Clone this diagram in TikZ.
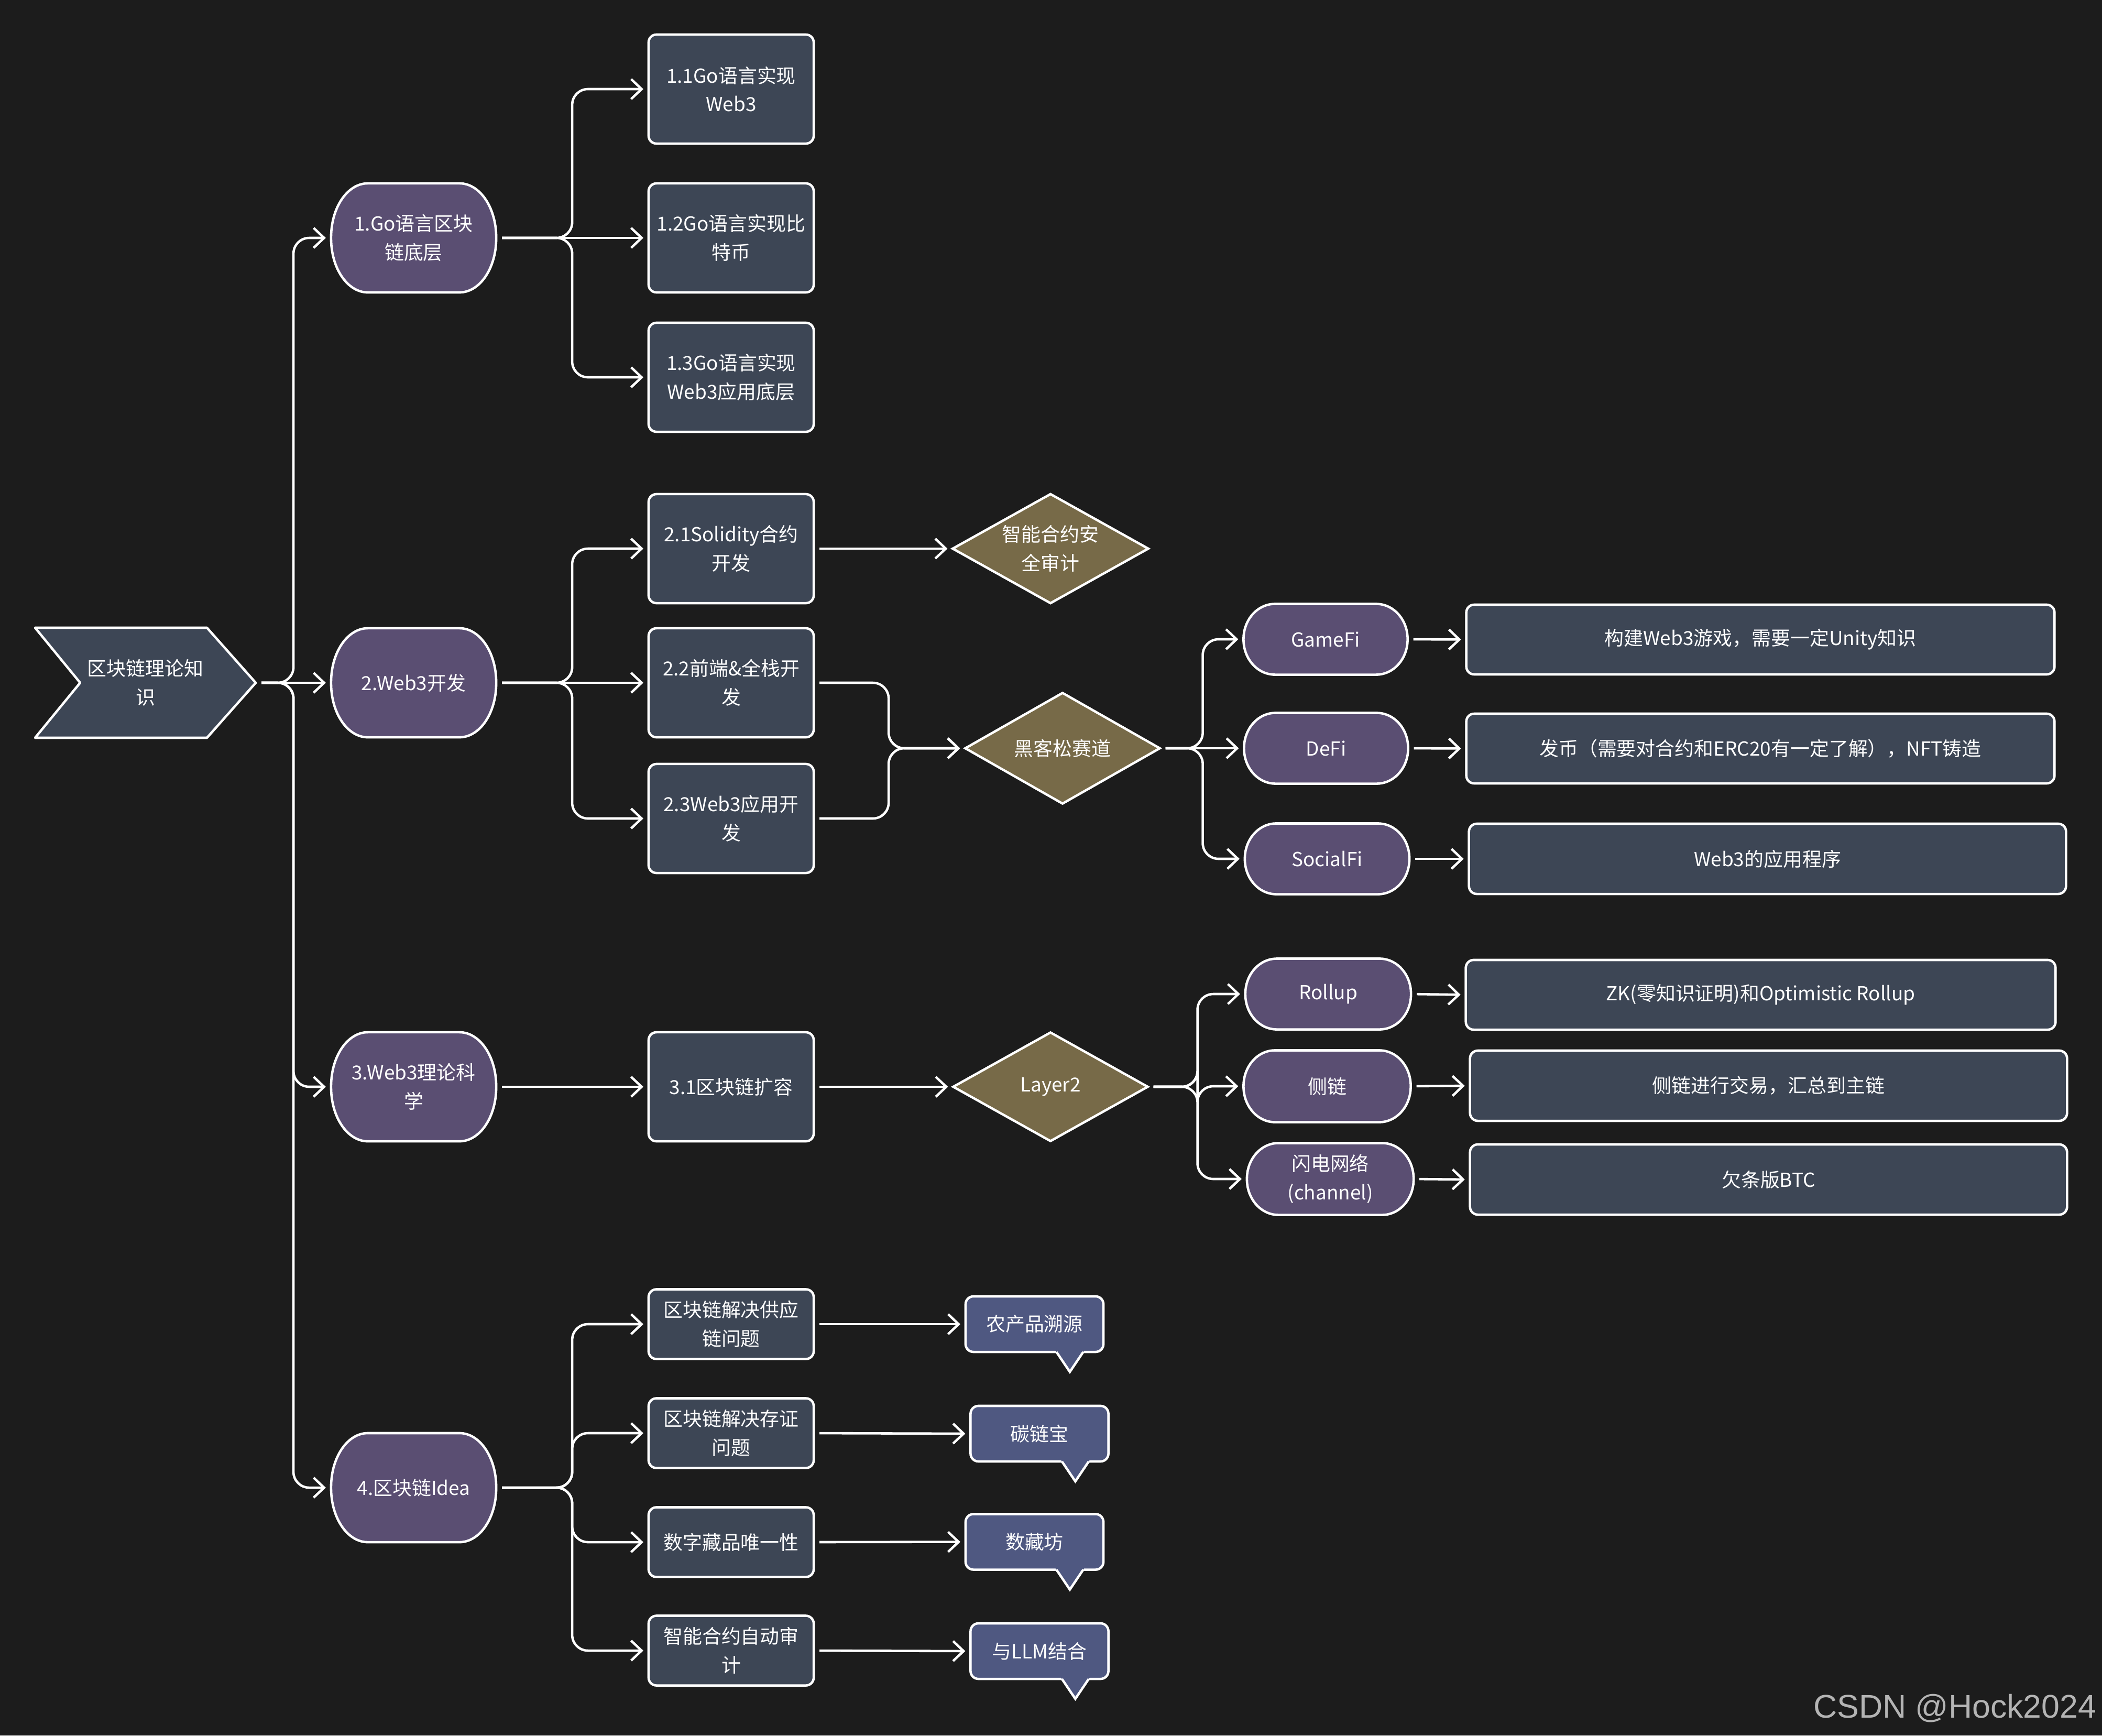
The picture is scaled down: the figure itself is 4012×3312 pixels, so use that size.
\documentclass[tikz,border=0pt]{standalone}
\usepackage{fontspec}
\setmainfont{Noto Sans CJK SC}
\newfontfamily\csdnfont{Liberation Sans}
\usetikzlibrary{arrows.meta,shapes.geometric,calc}
\definecolor{bgc}{HTML}{1C1C1C}
\definecolor{boxc}{HTML}{3D4655}
\definecolor{purc}{HTML}{5A4E72}
\definecolor{olivec}{HTML}{776A48}
\definecolor{callc}{HTML}{4F5881}
\definecolor{markc}{HTML}{B4B4B4}
\pgfdeclarelayer{bg}
\pgfsetlayers{bg,main}
\newcommand\pillshape[3]{%
  \begin{pgfonlayer}{bg}
  \draw[pillline] ([xshift=#2]#1.north west) -- ([xshift=-#2]#1.north east)
    arc[start angle=90,end angle=0,x radius=#2,y radius=#3]
    -- ([yshift=#3]#1.south east)
    arc[start angle=0,end angle=-90,x radius=#2,y radius=#3]
    -- ([xshift=#2]#1.south west)
    arc[start angle=-90,end angle=-180,x radius=#2,y radius=#3]
    -- ([yshift=-#3]#1.north west)
    arc[start angle=180,end angle=90,x radius=#2,y radius=#3] -- cycle;
  \end{pgfonlayer}}
\newcommand\calltail[2]{% node, dx of tip from south west
  \fill[callc] ($(#1.south west)+(#2-29,-5)$) -- ($(#1.south west)+(#2+29,-5)$) -- ($(#1.south west)+(#2,38)$) -- cycle;
  \draw[white,line width=1.3pt,line join=miter] ($(#1.south west)+(#2-25.6,0)$) -- ($(#1.south west)+(#2,38)$) -- ($(#1.south west)+(#2+25.6,0)$);}
\tikzset{
  txt/.style={text=white, align=center, inner sep=0pt, outer sep=0pt},
  gbox/.style={txt, draw=white, line width=1.3pt, fill=boxc, rounded corners=0.15cm, minimum width=3.15cm, minimum height=2.08cm},
  sbox/.style={gbox, minimum height=1.33cm},
  wbox/.style={gbox, minimum height=1.33cm},
  pillA/.style={txt, minimum width=3.15cm, minimum height=2.08cm},
  pillB/.style={txt, minimum width=3.13cm, minimum height=1.35cm},
  pillline/.style={draw=white, line width=1.3pt, fill=purc},
  dia/.style={txt, diamond, aspect=1.8, draw=white, line width=1.3pt, fill=olivec, minimum width=3.73cm, minimum height=2.08cm},
  callbox/.style={txt, draw=white, line width=1.3pt, fill=callc, rounded corners=0.15cm, minimum width=2.63cm, minimum height=1.06cm},
  conn/.style={draw=white, line width=1.3pt, rounded corners=0.3cm, -{Straight Barb[length=0.2cm,width=0.38cm,line width=1.3pt]}, shorten >=0.1cm, shorten <=0.11cm},
}
\begin{document}
\begin{tikzpicture}[x=0.01cm,y=-0.01cm,font=\fontsize{10.5}{15.5}\selectfont]
\begin{pgfonlayer}{bg}
\fill[bgc] (0,0) rectangle (4012,3312);
\end{pgfonlayer}
\useasboundingbox (0,0) rectangle (4012,3312);

% root chevron
\node[txt, minimum width=4.21cm, minimum height=2.1cm] (root) at (277.5,1303) {区块链理论知\\识};
\begin{pgfonlayer}{bg}
\draw[draw=white, line width=1.3pt, fill=boxc, line join=round] (67,1198) -- (395,1198) -- (root.east) -- (395,1408) -- (67,1408) -- (153,1303) -- cycle;
\end{pgfonlayer}

% level 1
\node[pillA] (n1) at (789.5,454) {1.Go语言区块\\链底层};
\node[pillA] (n2) at (789.5,1303) {2.Web3开发};
\node[pillA] (n3) at (789.5,2074) {3.Web3理论科\\学};
\node[pillA] (n4) at (789.5,2839) {4.区块链Idea};
\pillshape{n1}{0.7cm}{1.03cm}
\pillshape{n2}{0.7cm}{1.03cm}
\pillshape{n3}{0.7cm}{1.03cm}
\pillshape{n4}{0.7cm}{1.03cm}

% level 2
\node[gbox] (b11) at (1395.5,170) {1.1Go语言实现\\Web3};
\node[gbox] (b12) at (1395.5,454) {1.2Go语言实现比\\特币};
\node[gbox] (b13) at (1395.5,720) {1.3Go语言实现\\Web3应用底层};
\node[gbox] (b21) at (1395.5,1047) {2.1Solidity合约\\开发};
\node[gbox] (b22) at (1395.5,1303) {2.2前端\&全栈开\\发};
\node[gbox] (b23) at (1395.5,1562) {2.3Web3应用开\\发};
\node[gbox] (b31) at (1395.5,2074) {3.1区块链扩容};
\node[sbox] (b41) at (1395.5,2527) {区块链解决供应\\链问题};
\node[sbox] (b42) at (1395.5,2735) {区块链解决存证\\问题};
\node[sbox] (b43) at (1395.5,2943) {数字藏品唯一性};
\node[sbox] (b44) at (1395.5,3150) {智能合约自动审\\计};

% diamonds
\node[dia] (d1) at (2005,1047) {智能合约安\\全审计};
\node[dia, minimum width=3.71cm, minimum height=2.11cm] (dh) at (2028,1428) {黑客松赛道};
\node[dia, minimum width=3.71cm, minimum height=2.07cm] (dl) at (2005,2074) {Layer2};

% level 3 pills
\node[pillB] (pg) at (2530,1220) {GameFi};
\node[pillB] (pd) at (2531,1428) {DeFi};
\node[pillB, minimum width=3.14cm] (ps) at (2533,1639) {SocialFi};
\node[pillB, minimum width=3.16cm] (pr) at (2535,1897) {Rollup};
\node[pillB, minimum width=3.19cm, minimum height=1.37cm] (psd) at (2533,2073) {侧链};
\node[pillB, minimum width=3.18cm, minimum height=1.37cm] (pf) at (2539,2250) {闪电网络\\(channel)};
\pillshape{pg}{0.6cm}{0.67cm}
\pillshape{pd}{0.6cm}{0.67cm}
\pillshape{ps}{0.6cm}{0.67cm}
\pillshape{pr}{0.6cm}{0.67cm}
\pillshape{psd}{0.6cm}{0.68cm}
\pillshape{pf}{0.6cm}{0.68cm}

% wide boxes
\node[wbox, minimum width=11.22cm] (wg) at (3360,1220.5) {构建Web3游戏，需要一定Unity知识};
\node[wbox, minimum width=11.22cm] (wd) at (3360,1428.5) {发币（需要对合约和ERC20有一定了解），NFT铸造};
\node[wbox, minimum width=11.39cm, minimum height=1.34cm] (ws) at (3373.5,1639) {Web3的应用程序};
\node[wbox, minimum width=11.25cm] (wr) at (3360.5,1898.5) {ZK(零知识证明)和Optimistic Rollup};
\node[wbox, minimum width=11.39cm, minimum height=1.34cm] (wsd) at (3375.5,2072) {侧链进行交易，汇总到主链};
\node[wbox, minimum width=11.39cm, minimum height=1.34cm] (wf) at (3375.5,2251) {欠条版BTC};

% callouts
\node[callbox] (c1) at (1974.5,2527) {农产品溯源};
\node[callbox] (c2) at (1984,2736) {碳链宝};
\node[callbox] (c3) at (1974.5,2942.5) {数藏坊};
\node[callbox] (c4) at (1984,3151) {与LLM结合};
\calltail{c1}{199}
\calltail{c2}{200}
\calltail{c3}{199}
\calltail{c4}{200}

% connectors: root -> level 1
\draw[conn] (root.east) -- ++(72,0) |- (n1.west);
\draw[conn] (root.east) -- (n2.west);
\draw[conn] (root.east) -- ++(72,0) |- (n3.west);
\draw[conn] (root.east) -- ++(72,0) |- (n4.west);

% level 1 -> level 2
\draw[conn] (n1.east) -- ++(145,0) |- (b11.west);
\draw[conn] (n1.east) -- (b12.west);
\draw[conn] (n1.east) -- ++(145,0) |- (b13.west);
\draw[conn] (n2.east) -- ++(145,0) |- (b21.west);
\draw[conn] (n2.east) -- (b22.west);
\draw[conn] (n2.east) -- ++(145,0) |- (b23.west);
\draw[conn] (n3.east) -- (b31.west);
\draw[conn] (n4.east) -- ++(145,0) |- (b41.west);
\draw[conn] (n4.east) -- ++(145,0) |- (b42.west);
\draw[conn] (n4.east) -- ++(145,0) |- (b43.west);
\draw[conn] (n4.east) -- ++(145,0) |- (b44.west);

% level 2 -> diamonds / callouts
\draw[conn] (b21.east) -- (d1.west);
\draw[conn] (b22.east) -- ++(143,0) |- (dh.west);
\draw[conn] (b23.east) -- ++(143,0) |- (dh.west);
\draw[conn] (b31.east) -- (dl.west);
\draw[conn] (b41.east) -- (c1.west);
\draw[conn] (b42.east) -- (c2.west);
\draw[conn] (b43.east) -- (c3.west);
\draw[conn] (b44.east) -- (c4.west);

% diamonds -> pills
\draw[conn] (dh.east) -- ++(82,0) |- (pg.west);
\draw[conn] (dh.east) -- (pd.west);
\draw[conn] (dh.east) -- ++(82,0) |- (ps.west);
\draw[conn] (dl.east) -- ++(95,0) |- (pr.west);
\draw[conn] (dl.east) -- ++(95,0) |- (psd.west);
\draw[conn] (dl.east) -- ++(95,0) |- (pf.west);

% pills -> wide boxes
\draw[conn] (pg.east) -- (wg.west);
\draw[conn] (pd.east) -- (wd.west);
\draw[conn] (ps.east) -- (ws.west);
\draw[conn] (pr.east) -- (wr.west);
\draw[conn] (psd.east) -- (wsd.west);
\draw[conn] (pf.east) -- (wf.west);

% credit
\node[anchor=base east, inner sep=0pt, text=markc, font=\csdnfont\fontsize{17.8}{20}\selectfont] (credit) at (4002,3278) {CSDN @Hock2024};
\end{tikzpicture}
\end{document}
